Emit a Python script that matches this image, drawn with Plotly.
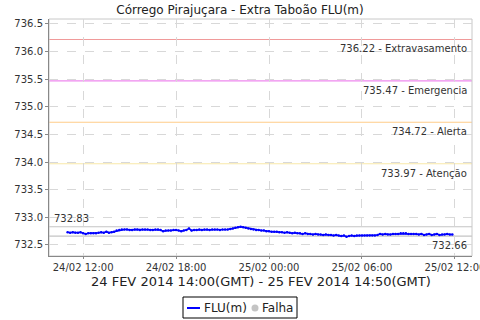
import pandas as pd
import plotly.graph_objects as go

start = "2014-02-24 11:00"
flu_values = [
    732.73, 732.72, 732.73, 732.72, 732.72, 732.73, 732.71, 732.70, 732.71, 732.71,
    732.71, 732.71, 732.72, 732.73, 732.72, 732.74, 732.72, 732.73, 732.74, 732.76,
    732.77, 732.78, 732.78, 732.78, 732.77, 732.77, 732.78, 732.78, 732.77, 732.78,
    732.78, 732.78, 732.77, 732.77, 732.78, 732.78, 732.77, 732.75, 732.76, 732.76,
    732.76, 732.77, 732.77, 732.76, 732.75, 732.76, 732.77, 732.80, 732.76, 732.77,
    732.77, 732.78, 732.77, 732.78, 732.78, 732.77, 732.78, 732.78, 732.78, 732.77,
    732.78, 732.78, 732.78, 732.79, 732.80, 732.81, 732.82, 732.83, 732.82, 732.81,
    732.80, 732.79, 732.78, 732.77, 732.77, 732.76, 732.76, 732.75, 732.75, 732.74,
    732.74, 732.74, 732.73, 732.73, 732.72, 732.73, 732.72, 732.71, 732.72, 732.71,
    732.71, 732.70, 732.71, 732.70, 732.70, 732.69, 732.70, 732.69, 732.69, 732.68,
    732.69, 732.68, 732.68, 732.67, 732.68, 732.67, 732.66, 732.67, 732.65, 732.66,
    732.67, 732.66, 732.67, 732.67, 732.67, 732.67, 732.67, 732.67, 732.67, 732.67,
    732.68, 732.70, 732.69, 732.70, 732.69, 732.69, 732.70, 732.70, 732.70, 732.71,
    732.71, 732.71, 732.70, 732.70, 732.70, 732.70, 732.69, 732.70, 732.68, 732.69,
    732.70, 732.68, 732.69, 732.70, 732.68, 732.69, 732.69, 732.70, 732.69, 732.69,
]
times = pd.date_range(start, periods=len(flu_values), freq="10min")

threshold_values = [736.22, 735.47, 734.72, 733.97]
threshold_names = ["Extravasamento", "Emergencia", "Alerta", "Atenção"]
threshold_colors = ["#f09a9a", "#ee88ee", "#ffcc88", "#f8e8a8"]

max_value = 732.83
min_value = 732.66

legend_names = ["FLU(m)", "Falha"]
legend_colors = ["#0000ff", "#c4c4c4"]

x_range = ["2014-02-24 09:48", "2014-02-25 13:06"]
y_range = [732.30, 736.59]
x_ticks = pd.date_range("2014-02-24 12:00", "2014-02-25 12:00", freq="6h")
y_ticks = [732.5 + 0.5 * k for k in range(9)]

font = "DejaVu Sans"
W, H = 480, 320
L, R, T, B = 49, 8, 19, 64
PW, PH = W - L - R, H - T - B


def px(x):
    return (x - L) / PW


def py(y):
    return (H - B - y) / PH


fig = go.Figure()

for v, c in zip(threshold_values, threshold_colors):
    fig.add_hline(y=v, line=dict(color=c, width=1.1), layer="below")

for v in [max_value, min_value]:
    fig.add_hline(y=v, line=dict(color="#c4c4c4", width=1.1), layer="below")

fig.add_trace(go.Scatter(
    x=times, y=flu_values, mode="lines+markers", name=legend_names[0],
    line=dict(color=legend_colors[0], width=1.5),
    marker=dict(color=legend_colors[0], size=2.5),
    showlegend=False,
))

for v, n in zip(threshold_values, threshold_names):
    fig.add_annotation(
        x=1, xref="paper", xanchor="right", xshift=-3,
        y=v, yref="y", yanchor="top", yshift=-2,
        text=f"{v:.2f} - {n}", showarrow=False,
        font=dict(family=font, size=10, color="#333333"),
    )

fig.add_annotation(
    x=0, xref="paper", xanchor="left", xshift=3,
    y=max_value, yref="y", yanchor="bottom", yshift=1,
    text=f"{max_value:.2f}", showarrow=False,
    font=dict(family=font, size=10, color="#333333"),
)
fig.add_annotation(
    x=1, xref="paper", xanchor="right", xshift=-3,
    y=min_value, yref="y", yanchor="top", yshift=-2,
    text=f"{min_value:.2f}", showarrow=False,
    font=dict(family=font, size=10, color="#333333"),
)

# x-axis caption
fig.add_annotation(
    x=0.5, xref="paper", xanchor="center", y=py(281), yref="paper", yanchor="middle",
    text="24 FEV 2014 14:00(GMT) - 25 FEV 2014 14:50(GMT)", showarrow=False,
    font=dict(family=font, size=13, color="#222222"),
)

# legend box
fig.add_shape(type="rect", xref="paper", yref="paper",
              x0=px(183), x1=px(297), y0=py(318), y1=py(297),
              line=dict(color="#000000", width=1), fillcolor="white")
fig.add_shape(type="line", xref="paper", yref="paper",
              x0=px(187), x1=px(200), y0=py(308), y1=py(308),
              line=dict(color=legend_colors[0], width=2))
fig.add_annotation(x=px(202), xref="paper", xanchor="left", y=py(308), yref="paper",
                   yanchor="middle", text=legend_names[0], showarrow=False,
                   font=dict(family=font, size=12, color="#222222"))
fig.add_shape(type="circle", xref="paper", yref="paper",
              x0=px(251.5), x1=px(258.5), y0=py(311.5), y1=py(304.5),
              line=dict(color=legend_colors[1], width=0), fillcolor=legend_colors[1])
fig.add_annotation(x=px(260), xref="paper", xanchor="left", y=py(308), yref="paper",
                   yanchor="middle", text=legend_names[1], showarrow=False,
                   font=dict(family=font, size=12, color="#222222"))

fig.update_layout(
    width=W, height=H,
    margin=dict(l=L, r=R, t=T, b=B, autoexpand=False),
    paper_bgcolor="white", plot_bgcolor="white",
    font=dict(family=font, size=10, color="#333333"),
    title=dict(text="Córrego Pirajuçara - Extra Taboão FLU(m)",
               x=0.5, xanchor="center", y=0.984, yanchor="top",
               font=dict(family=font, size=12, color="#222222")),
    showlegend=False,
)

fig.update_xaxes(
    range=x_range, tickvals=x_ticks, tickformat="%d/%m %H:%M",
    ticklabeloverflow="allow", automargin=False,
    showgrid=True, gridcolor="#d8d8d8", griddash="dash", gridwidth=1,
    showline=True, linecolor="#888888", linewidth=1, mirror=False,
    ticks="outside", ticklen=2, tickcolor="#888888",
    tickfont=dict(family=font, size=10, color="#333333"),
    zeroline=False,
)
fig.update_yaxes(
    range=y_range, tickvals=y_ticks, tickformat=".1f", automargin=False,
    showgrid=True, gridcolor="#d8d8d8", griddash="dash", gridwidth=1,
    showline=True, linecolor="#888888", linewidth=1,
    ticks="outside", ticklen=3, tickcolor="#888888",
    tickfont=dict(family=font, size=10, color="#333333"),
    zeroline=False,
)

fig.add_shape(type="rect", xref="paper", yref="paper", x0=0, y0=0, x1=1, y1=1,
              line=dict(color="#c8c8c8", width=1), layer="below")

fig.write_html("out.html")
